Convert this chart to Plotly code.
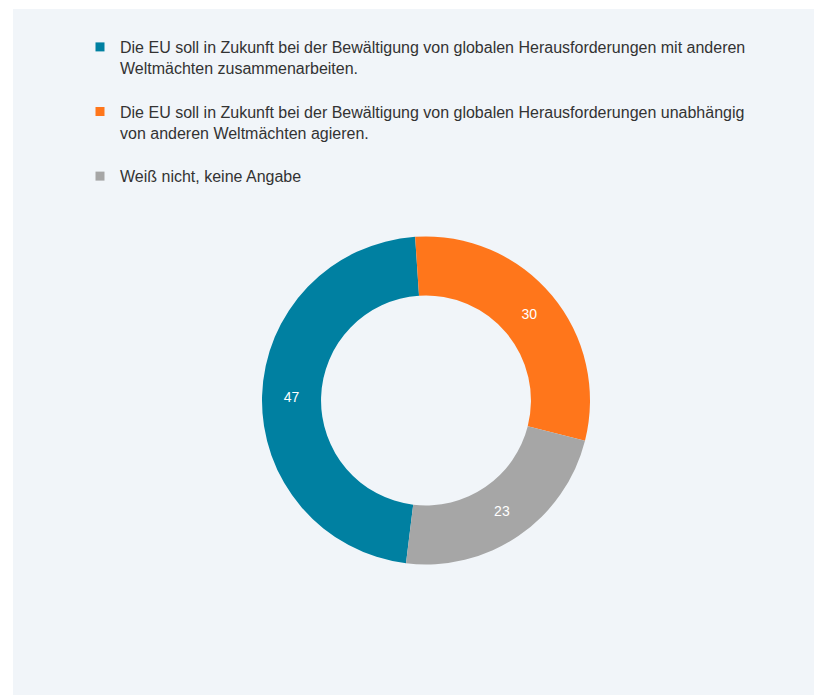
import plotly.graph_objects as go

categories = [
    "Die EU soll in Zukunft bei der Bewältigung von globalen Herausforderungen mit anderen<br>Weltmächten zusammenarbeiten.",
    "Die EU soll in Zukunft bei der Bewältigung von globalen Herausforderungen unabhängig<br>von anderen Weltmächten agieren.",
    "Weiß nicht, keine Angabe",
]
values = [47, 30, 23]
colors = ["#0080a1", "#ff761b", "#a6a6a6"]

W, H = 814, 695
BG = "#f1f5f9"
FONT = "Arial, Liberation Sans, sans-serif"

fig = go.Figure()

fig.add_trace(go.Pie(
    labels=categories,
    values=values,
    marker=dict(colors=colors, line=dict(width=0)),
    hole=0.64,
    sort=False,
    direction="clockwise",
    rotation=187,
    textinfo="value",
    textposition="inside",
    insidetextorientation="horizontal",
    textfont=dict(color="white", size=14, family=FONT),
    showlegend=False,
    hoverinfo="label+value",
    domain=dict(x=[262 / W, 590 / W], y=[1 - 564.5 / H, 1 - 236.5 / H]),
))

# legend entries
for i, (lab, col) in enumerate(zip(categories, colors)):
    fig.add_trace(go.Scatter(
        x=[None], y=[None], mode="markers",
        marker=dict(symbol="square", size=9, color=col),
        name=lab, legendgroup=f"g{i}", showlegend=True,
    ))

fig.update_layout(
    width=W, height=H,
    margin=dict(l=0, r=0, t=0, b=0),
    paper_bgcolor="white",
    plot_bgcolor="rgba(0,0,0,0)",
    font=dict(family=FONT, size=16, color="#333333"),
    xaxis=dict(visible=False),
    yaxis=dict(visible=False),
    shapes=[dict(type="rect", xref="paper", yref="paper",
                 x0=13 / W, x1=1.0, y0=0, y1=1 - 9 / H,
                 fillcolor=BG, line=dict(width=0), layer="below")],
    legend=dict(
        x=80 / W, y=1 - 30 / H, xanchor="left", yanchor="top",
        bgcolor="rgba(0,0,0,0)", valign="top",
        tracegroupgap=20, traceorder="grouped",
        font=dict(family=FONT, size=16, color="#333333"),
    ),
)

fig.write_html("out.html", config={"displayModeBar": False},
               post_script="document.body.style.margin='0';")
